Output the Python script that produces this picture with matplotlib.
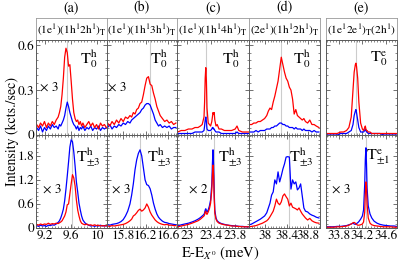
import matplotlib
matplotlib.use("Agg")
import matplotlib.pyplot as plt
from matplotlib.ticker import AutoMinorLocator

plt.rcParams['font.family'] = ['STIXGeneral', 'DejaVu Serif']
plt.rcParams['mathtext.fontset'] = 'stix'

# ---- data ----
col_names = ['(a)', '(b)', '(c)', '(d)', '(e)']
headers = [r'(1e$^1$)(1h$^1$2h$^1$)$_\mathrm{T}$',
           r'(1e$^1$)(1h$^1$3h$^1$)$_\mathrm{T}$',
           r'(1e$^1$)(1h$^1$4h$^1$)$_\mathrm{T}$',
           r'(2e$^1$)(1h$^1$2h$^1$)$_\mathrm{T}$',
           r'(1e$^1$2e$^1$)$_\mathrm{T}$(2h$^1$)']
xlims = [(9.06, 10.15), (15.51, 16.76), (22.83, 24.03), (37.70, 39.02), (33.58, 34.79)]
xticks = [[9.2, 9.6, 10], [15.8, 16.2, 16.6], [23, 23.4, 23.8], [38, 38.4, 38.8], [33.8, 34.2, 34.6]]
xticklabels = [['9.2', '9.6', '10'], ['15.8', '16.2', '16.6'], ['23', '23.4', '23.8'],
               ['38', '38.4', '38.8'], ['33.8', '34.2', '34.6']]
vline_top = [9.53, 16.27, 23.31, 38.30, 34.09]
vline_bot = [9.61, 16.10, 23.44, 38.45, 34.26]
label_top = [r'T$^\mathrm{h}_0$'] * 4 + [r'T$^\mathrm{e}_0$']
label_bot = [r'T$^\mathrm{h}_{\pm3}$'] * 4 + [r'T$^\mathrm{e}_{\pm1}$']
mult_top = ['× 3', '× 3', '', '', '']
mult_bot = ['× 3', '× 3', '× 2', '', '× 3']
mult_top_x = [0.18, 0.15, 0, 0, 0]
mult_bot_x = [0.23, 0.20, 0.30, 0, 0.22]

x_a = [9.07, 9.10, 9.13, 9.16, 9.19, 9.22, 9.25, 9.28, 9.31, 9.34, 9.37, 9.40, 9.42, 9.44, 9.46,
       9.48, 9.50, 9.52, 9.54, 9.56, 9.58, 9.60, 9.62, 9.64, 9.66, 9.68, 9.70, 9.72, 9.74, 9.76,
       9.78, 9.81, 9.84, 9.87, 9.90, 9.93, 9.96, 9.99, 10.02, 10.05, 10.08, 10.11, 10.14]
a_top_red = [0.07, 0.05, 0.08, 0.06, 0.09, 0.05, 0.08, 0.06, 0.09, 0.07, 0.10, 0.12, 0.15, 0.19, 0.27,
             0.38, 0.52, 0.58, 0.55, 0.46, 0.47, 0.36, 0.24, 0.15, 0.11, 0.09, 0.10, 0.07, 0.09, 0.06,
             0.08, 0.05, 0.07, 0.09, 0.06, 0.08, 0.05, 0.07, 0.04, 0.08, 0.06, 0.07, 0.05]
a_top_blue = [0.05, 0.03, 0.06, 0.02, 0.05, 0.03, 0.06, 0.04, 0.07, 0.05, 0.06, 0.04, 0.07, 0.06, 0.08,
              0.10, 0.13, 0.18, 0.22, 0.19, 0.15, 0.12, 0.09, 0.07, 0.06, 0.04, 0.06, 0.03, 0.05, 0.04,
              0.06, 0.03, 0.05, 0.04, 0.06, 0.03, 0.05, 0.04, 0.06, 0.03, 0.05, 0.04, 0.05]
a_bot_blue = [0.06, 0.04, 0.07, 0.05, 0.06, 0.04, 0.07, 0.06, 0.08, 0.07, 0.10, 0.14, 0.18, 0.25, 0.35,
              0.47, 0.68, 0.97, 1.30, 1.65, 2.02, 2.20, 2.15, 1.90, 1.55, 1.15, 0.90, 0.62, 0.45, 0.30,
              0.20, 0.13, 0.09, 0.07, 0.05, 0.06, 0.04, 0.06, 0.05, 0.07, 0.05, 0.06, 0.05]
a_bot_red = [0.09, 0.07, 0.10, 0.08, 0.10, 0.09, 0.12, 0.09, 0.11, 0.10, 0.12, 0.11, 0.13, 0.15, 0.18,
             0.24, 0.30, 0.40, 0.58, 0.60, 0.85, 1.10, 1.33, 1.25, 1.05, 0.70, 0.45, 0.30, 0.18, 0.12,
             0.10, 0.08, 0.10, 0.07, 0.08, 0.06, 0.08, 0.06, 0.07, 0.05, 0.06, 0.05, 0.06]

x_b = [15.52, 15.56, 15.60, 15.64, 15.68, 15.72, 15.76, 15.80, 15.84, 15.88, 15.92, 15.95, 15.98,
       16.01, 16.04, 16.07, 16.10, 16.13, 16.16, 16.19, 16.22, 16.25, 16.28, 16.31, 16.34, 16.37,
       16.40, 16.43, 16.46, 16.50, 16.54, 16.58, 16.62, 16.66, 16.70, 16.74]
b_top_red = [0.08, 0.06, 0.09, 0.07, 0.10, 0.08, 0.11, 0.09, 0.12, 0.11, 0.13, 0.12, 0.15,
             0.14, 0.17, 0.18, 0.21, 0.22, 0.27, 0.33, 0.38, 0.39, 0.34, 0.33, 0.28, 0.24,
             0.19, 0.16, 0.13, 0.11, 0.09, 0.10, 0.08, 0.09, 0.07, 0.08]
b_top_blue = [0.05, 0.07, 0.04, 0.06, 0.05, 0.07, 0.06, 0.08, 0.07, 0.09, 0.08, 0.10, 0.11,
              0.12, 0.13, 0.14, 0.15, 0.17, 0.18, 0.20, 0.21, 0.21, 0.20, 0.17, 0.14, 0.10,
              0.08, 0.06, 0.07, 0.05, 0.06, 0.05, 0.06, 0.04, 0.05, 0.05]
b_bot_blue = [0.08, 0.07, 0.09, 0.10, 0.11, 0.13, 0.16, 0.21, 0.30, 0.42, 0.60, 0.82, 1.10,
              1.45, 1.70, 1.86, 1.95, 1.80, 1.50, 1.20, 1.08, 1.06, 0.98, 0.82, 0.62, 0.47,
              0.35, 0.27, 0.22, 0.17, 0.14, 0.13, 0.11, 0.10, 0.09, 0.08]
b_bot_red = [0.05, 0.04, 0.06, 0.05, 0.06, 0.07, 0.08, 0.09, 0.11, 0.14, 0.18, 0.22, 0.30,
             0.33, 0.38, 0.44, 0.47, 0.42, 0.45, 0.50, 0.60, 0.52, 0.40, 0.32, 0.26, 0.20,
             0.16, 0.13, 0.11, 0.09, 0.08, 0.09, 0.07, 0.07, 0.06, 0.06]

x_c = [22.84, 22.90, 22.96, 23.02, 23.08, 23.13, 23.18, 23.22, 23.25, 23.28, 23.29, 23.30, 23.31,
       23.32, 23.33, 23.35, 23.37, 23.39, 23.41, 23.42, 23.43, 23.44, 23.45, 23.46, 23.48, 23.50,
       23.53, 23.57, 23.62, 23.68, 23.74, 23.80, 23.83, 23.86, 23.92, 23.98, 24.02]
c_top_red = [0.02, 0.03, 0.03, 0.04, 0.04, 0.05, 0.05, 0.06, 0.07, 0.12, 0.22, 0.38, 0.45,
             0.36, 0.18, 0.08, 0.07, 0.06, 0.09, 0.12, 0.15, 0.14, 0.15, 0.10, 0.06, 0.07,
             0.04, 0.04, 0.03, 0.03, 0.03, 0.04, 0.06, 0.03, 0.02, 0.02, 0.02]
c_top_blue = [0.01, 0.01, 0.01, 0.01, 0.01, 0.02, 0.02, 0.02, 0.02, 0.03, 0.06, 0.10, 0.12,
              0.09, 0.04, 0.03, 0.03, 0.03, 0.04, 0.05, 0.05, 0.04, 0.04, 0.03, 0.02, 0.02,
              0.02, 0.01, 0.01, 0.01, 0.01, 0.01, 0.02, 0.01, 0.01, 0.01, 0.01]
c_bot_blue = [0.05, 0.08, 0.10, 0.12, 0.15, 0.18, 0.22, 0.26, 0.30, 0.34, 0.38, 0.45, 0.48,
              0.42, 0.40, 0.45, 0.55, 0.70, 1.10, 1.60, 1.95, 1.55, 0.90, 0.45, 0.25, 0.18,
              0.14, 0.11, 0.09, 0.07, 0.06, 0.05, 0.05, 0.04, 0.04, 0.03, 0.03]
c_bot_red = [0.03, 0.05, 0.07, 0.09, 0.12, 0.15, 0.18, 0.22, 0.26, 0.30, 0.33, 0.40, 0.42,
             0.36, 0.34, 0.40, 0.48, 0.62, 0.95, 1.30, 1.57, 1.30, 0.75, 0.38, 0.22, 0.16,
             0.12, 0.10, 0.08, 0.07, 0.05, 0.05, 0.04, 0.04, 0.03, 0.03, 0.03]

x_d = [37.71, 37.75, 37.79, 37.83, 37.87, 37.91, 37.95, 37.99, 38.03, 38.06, 38.09, 38.12, 38.15,
       38.18, 38.21, 38.24, 38.27, 38.30, 38.33, 38.36, 38.39, 38.42, 38.45, 38.48, 38.51, 38.54,
       38.57, 38.60, 38.63, 38.66, 38.69, 38.72, 38.75, 38.79, 38.83, 38.87, 38.91, 38.95, 39.00]
d_top_red = [0.07, 0.07, 0.08, 0.08, 0.09, 0.09, 0.10, 0.11, 0.13, 0.16, 0.18, 0.17, 0.22,
             0.26, 0.31, 0.36, 0.44, 0.52, 0.47, 0.42, 0.38, 0.36, 0.32, 0.30, 0.24, 0.14,
             0.17, 0.13, 0.12, 0.11, 0.10, 0.11, 0.09, 0.08, 0.10, 0.07, 0.07, 0.06, 0.05]
d_top_blue = [0.02, 0.02, 0.02, 0.03, 0.02, 0.03, 0.03, 0.03, 0.04, 0.04, 0.04, 0.05, 0.05,
              0.06, 0.06, 0.07, 0.08, 0.08, 0.07, 0.07, 0.06, 0.06, 0.05, 0.05, 0.05, 0.04,
              0.05, 0.04, 0.04, 0.04, 0.03, 0.04, 0.03, 0.03, 0.03, 0.02, 0.03, 0.02, 0.02]
d_bot_blue = [0.08, 0.10, 0.13, 0.16, 0.19, 0.22, 0.26, 0.30, 0.38, 0.50, 0.62, 0.82, 0.90,
              1.20, 1.10, 1.40, 1.15, 1.30, 1.47, 1.60, 1.77, 1.78, 1.77, 0.97, 1.20, 1.10,
              1.15, 0.95, 1.00, 1.10, 0.80, 0.50, 0.42, 0.40, 0.35, 0.32, 0.30, 0.27, 0.25]
d_bot_red = [0.03, 0.04, 0.05, 0.06, 0.08, 0.10, 0.12, 0.15, 0.18, 0.22, 0.28, 0.35, 0.42,
             0.55, 0.72, 0.62, 0.58, 0.65, 0.80, 0.85, 0.78, 0.72, 0.55, 0.62, 0.52, 0.50,
             0.48, 0.45, 0.50, 0.42, 0.35, 0.30, 0.25, 0.20, 0.24, 0.18, 0.15, 0.13, 0.12]

x_e = [33.59, 33.65, 33.71, 33.77, 33.83, 33.88, 33.93, 33.97, 34.01, 34.04, 34.06, 34.08, 34.09,
       34.10, 34.12, 34.14, 34.17, 34.20, 34.22, 34.24, 34.25, 34.26, 34.27, 34.28, 34.30, 34.33,
       34.36, 34.40, 34.45, 34.50, 34.56, 34.62, 34.68, 34.74, 34.78]
e_top_red = [0.01, 0.01, 0.01, 0.01, 0.02, 0.02, 0.03, 0.05, 0.12, 0.30, 0.42, 0.47, 0.48,
             0.46, 0.38, 0.22, 0.08, 0.04, 0.03, 0.05, 0.06, 0.04, 0.03, 0.03, 0.02, 0.02,
             0.01, 0.01, 0.01, 0.01, 0.01, 0.01, 0.01, 0.01, 0.01]
e_top_blue = [0.00, 0.00, 0.00, 0.00, 0.01, 0.01, 0.01, 0.02, 0.03, 0.07, 0.13, 0.16, 0.17,
              0.15, 0.10, 0.05, 0.02, 0.02, 0.02, 0.03, 0.04, 0.03, 0.02, 0.02, 0.01, 0.01,
              0.01, 0.01, 0.01, 0.01, 0.00, 0.00, 0.00, 0.00, 0.00]
e_bot_blue = [0.03, 0.03, 0.03, 0.04, 0.04, 0.05, 0.06, 0.08, 0.10, 0.12, 0.10, 0.09, 0.10,
              0.11, 0.13, 0.16, 0.22, 0.30, 0.45, 1.10, 1.70, 2.00, 1.60, 1.00, 0.55, 0.35,
              0.25, 0.17, 0.12, 0.09, 0.07, 0.06, 0.05, 0.05, 0.04]
e_bot_red = [0.02, 0.02, 0.02, 0.03, 0.03, 0.04, 0.05, 0.07, 0.10, 0.13, 0.14, 0.12, 0.10,
             0.09, 0.07, 0.07, 0.08, 0.10, 0.15, 0.40, 0.85, 1.15, 1.05, 0.60, 0.25, 0.12,
             0.08, 0.06, 0.05, 0.04, 0.03, 0.03, 0.03, 0.02, 0.02]

xs = [x_a, x_b, x_c, x_d, x_e]
top_red = [a_top_red, b_top_red, c_top_red, d_top_red, e_top_red]
top_blue = [a_top_blue, b_top_blue, c_top_blue, d_top_blue, e_top_blue]
bot_red = [a_bot_red, b_bot_red, c_bot_red, d_bot_red, e_bot_red]
bot_blue = [a_bot_blue, b_bot_blue, c_bot_blue, d_bot_blue, e_bot_blue]

# ---- layout in pixels ----
W, H = 399, 264
col_px = [(36, 107), (107, 177), (177, 249), (249, 320), (326, 397)]
top_px = (40, 135)
bot_px = (135, 228)
head_px = (18, 40)

fig = plt.figure(figsize=(W / 100, H / 100), dpi=100)


def add_ax(xp, yp):
    return fig.add_axes([xp[0] / W, 1 - yp[1] / H, (xp[1] - xp[0]) / W, (yp[1] - yp[0]) / H])


def style(ax):
    for s in ax.spines.values():
        s.set_color('0.35')
        s.set_linewidth(0.7)
    ax.tick_params(which='both', direction='in', top=True, right=True, colors='0.35',
                   labelcolor='black', labelsize=9.5, pad=1.5)
    ax.tick_params(which='major', length=3, width=0.6)
    ax.tick_params(which='minor', length=1.5, width=0.5)
    ax.xaxis.set_minor_locator(AutoMinorLocator(8))
    ax.yaxis.set_minor_locator(AutoMinorLocator(6))


for i in range(5):
    # header cell
    hx = add_ax(col_px[i], head_px)
    hx.set_xticks([])
    hx.set_yticks([])
    for s in hx.spines.values():
        s.set_color('0.6')
        s.set_linewidth(0.6)
    hx.text(0.5, 0.45, headers[i], ha='center', va='center', fontsize=8.2, transform=hx.transAxes)
    fig.text((col_px[i][0] + col_px[i][1]) / 2 / W, 1 - 8 / H, col_names[i],
             ha='center', va='center', fontsize=10)

    for row in range(2):
        ax = add_ax(col_px[i], top_px if row == 0 else bot_px)
        style(ax)
        if row == 0:
            ax.axvline(vline_top[i], color='0.8', lw=0.8, zorder=0)
            ax.plot(xs[i], top_blue[i], color='blue', lw=0.9)
            ax.plot(xs[i], top_red[i], color='red', lw=0.9)
            ax.set_ylim(0, 0.635)
            ax.set_yticks([0, 0.3, 0.6])
            ax.set_yticklabels(['0', '0.3', '0.6'])
            ax.tick_params(labelbottom=False)
            lab, mult, mx, ly, my = label_top[i], mult_top[i], mult_top_x[i], 0.80, 0.50
        else:
            ax.axvline(vline_bot[i], color='0.8', lw=0.8, zorder=0)
            ax.plot(xs[i], bot_blue[i], color='blue', lw=0.9)
            ax.plot(xs[i], bot_red[i], color='red', lw=0.9)
            ax.set_ylim(0, 2.32)
            ax.set_yticks([0, 0.6, 1.2, 1.8])
            ax.set_yticklabels(['0', '0.6', '1.2', '1.8'])
            lab, mult, mx, ly, my = label_bot[i], mult_bot[i], mult_bot_x[i], 0.76, 0.41
        ax.set_xlim(*xlims[i])
        ax.set_xticks(xticks[i])
        ax.set_xticklabels(xticklabels[i])
        if i != 0:
            ax.tick_params(labelleft=False)
        ax.text(0.74, ly, lab, ha='center', va='center', fontsize=11.5, transform=ax.transAxes)
        if mult:
            ax.text(mx, my, mult, ha='center', va='center', fontsize=9.5, transform=ax.transAxes)

fig.text(12 / W, 1 - 132 / H, 'Intensity (kcts./sec)', rotation=90, ha='center', va='center',
         fontsize=10)
fig.text(220 / W, 1 - 253 / H, r'E-E$_{X^0}$ (meV)', ha='center', va='center', fontsize=10.5)

fig.savefig('out.png', dpi=100)
